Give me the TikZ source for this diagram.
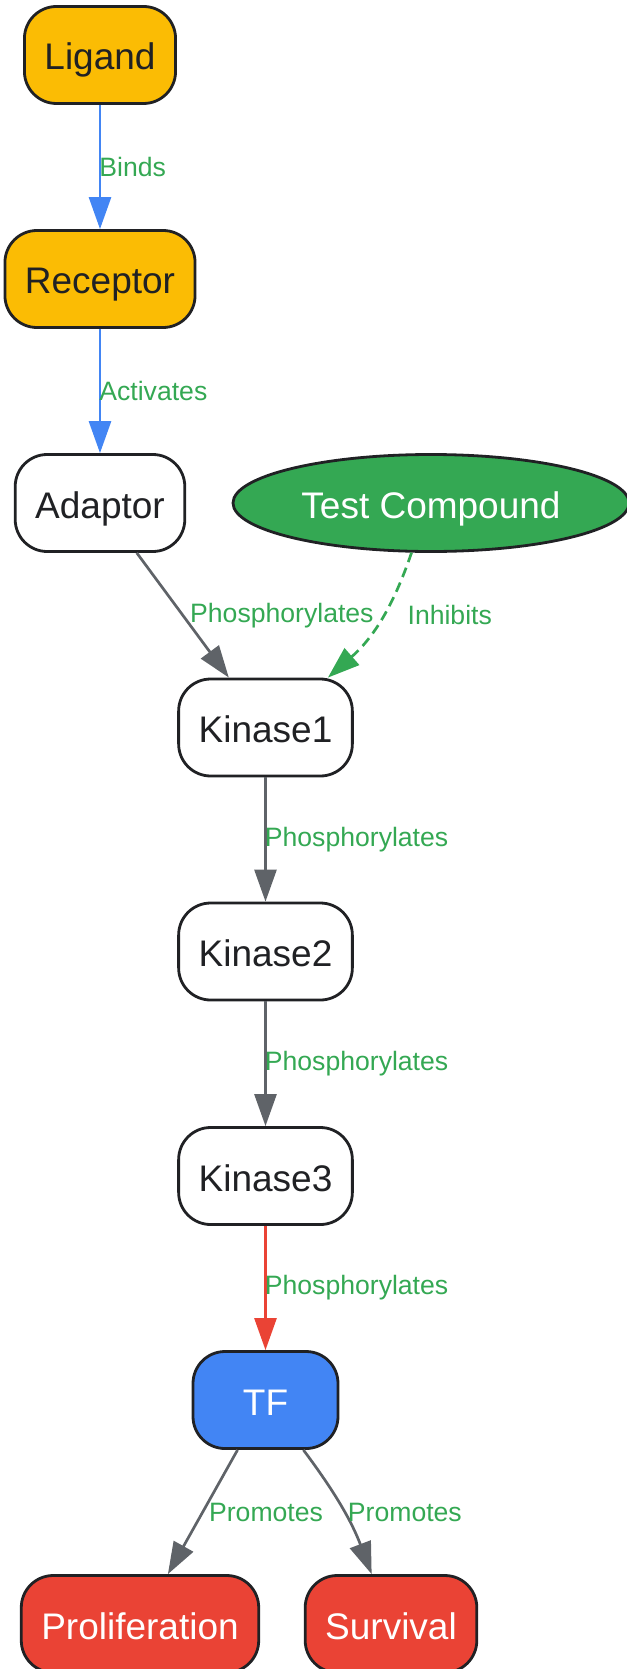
\documentclass[tikz,border=0pt]{standalone}
\usepackage{fontspec}
\setmainfont{Liberation Sans}
\usepackage{tikz}
\usetikzlibrary{positioning,shapes.geometric,arrows.meta}

\definecolor{gyellow}{HTML}{FBBC04}
\definecolor{ggreen}{HTML}{34A853}
\definecolor{gblue}{HTML}{4285F4}
\definecolor{gred}{HTML}{EA4335}
\definecolor{ggray}{HTML}{5F6368}
\definecolor{gdark}{HTML}{202124}

\begin{document}
\begin{tikzpicture}
            [x=1pt,y=-1pt,every node/.style={draw=gdark, line width=2.8pt, rounded corners=32pt, inner xsep=20pt, minimum width=145pt, minimum height=97pt, text height=30pt, text depth=0pt, text=gdark, font=\fontsize{37pt}{44pt}\selectfont},
             lbl/.style={draw=none, inner sep=0pt, minimum width=0pt, minimum height=0pt, text height=, text depth=, anchor=west, xshift=-2pt, text=ggreen, font=\fontsize{26.6pt}{32pt}\selectfont},
             link/.style={line width=2.7pt, -{Triangle[length=32pt,width=22pt]}}]
          \useasboundingbox (0,0) rectangle (626,1669);

          \node[fill=gyellow] (lig) at (100,55) {Ligand};
          \node[fill=gyellow] (rec) at (100,279) {Receptor};
          \node[fill=white] (adp) at (100,503) {Adaptor};
          \node[ellipse, fill=ggreen, text=white, inner sep=4pt, minimum width=396pt] (tc) at (431,503) {Test Compound};
          \node[fill=white] (k1) at (265.5,727.5) {Kinase1};
          \node[fill=white] (k2) at (265.5,951.5) {Kinase2};
          \node[fill=white] (k3) at (265.5,1176) {Kinase3};
          \node[fill=gblue, text=white] (tf) at (265.5,1400) {TF};
          \node[fill=gred, text=white] (pro) at (140,1624) {Proliferation};
          \node[fill=gred, text=white] (sur) at (391,1624) {Survival};

          \draw[link, gblue] (lig) -- (rec) node[lbl, pos=.5] {Binds};
          \draw[link, gblue] (rec) -- (adp) node[lbl, pos=.5] {Activates};
          \draw[link, ggray] (adp) -- (k1) node[lbl, pos=.5, xshift=8pt] {Phosphorylates};
          \draw[link, ggreen, dash pattern=on 10pt off 6pt] (tc) to[bend left=15] node[lbl, pos=.5, xshift=29pt, yshift=6pt] {Inhibits} (k1);
          \foreach \from/\to in {k1/k2, k2/k3}
            \draw[link, ggray] (\from) -- (\to) node[lbl, pos=.5] {Phosphorylates};
          \draw[link, gred] (k3) -- (tf) node[lbl, pos=.5] {Phosphorylates};
          \draw[link, ggray] (tf) -- (pro) node[lbl, pos=.5, xshift=7pt] {Promotes};
          \draw[link, ggray] (tf) to[bend left=8] node[lbl, pos=.5, xshift=6pt, yshift=-3pt] {Promotes} (sur);
        \end{tikzpicture}
\end{document}
